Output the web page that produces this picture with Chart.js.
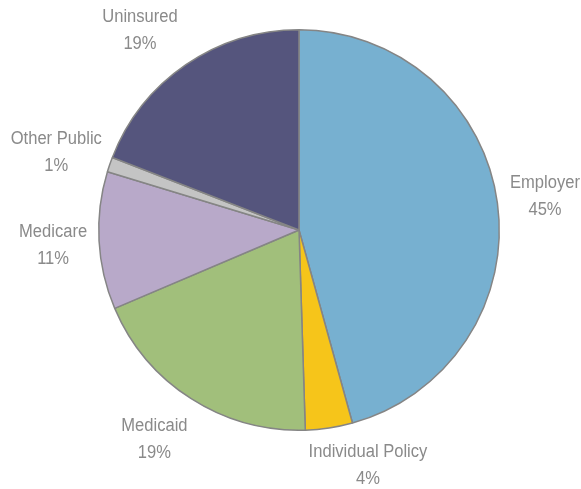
<!DOCTYPE html>
<html>
<head>
<meta charset="utf-8">
<script src="https://cdn.jsdelivr.net/npm/chart.js@4"></script>
<style>
  html, body { margin: 0; padding: 0; background: #fff; }
  canvas { display: block; }
</style>
</head>
<body>
<canvas id="coverageChart" width="581" height="489"></canvas>
<script>
const labels = ['Employer', 'Individual Policy', 'Medicaid', 'Medicare', 'Other Public', 'Uninsured'];
const values = [45.7, 3.8, 19.1, 11.1, 1.2, 19.1];  // slice sizes
const shown = ['45%', '4%', '19%', '11%', '1%', '19%'];  // printed percentages
const colors = ['#77B0D0', '#F6C51A', '#A1BF7B', '#B8A9C9', '#C4C4C4', '#55557D'];

// draws "Label / NN%" outside each slice
const outsideLabels = {
    id: 'outsideLabels',
    afterDraw(chart) {
        const c = chart.ctx;
        const arcs = chart.getDatasetMeta(0).data;
        const squeeze = 0.92;  // no narrow font installed, so squeeze the text a bit
        c.save();
        c.font = '18px "Liberation Sans", Arial, sans-serif';
        c.fillStyle = '#8A8A8A';
        c.textAlign = 'center';
        c.textBaseline = 'middle';
        arcs.forEach((arc, i) => {
            const p = arc.getProps(['x', 'y', 'startAngle', 'endAngle', 'outerRadius'], true);
            const mid = (p.startAngle + p.endAngle) / 2;
            const r = p.outerRadius + 46;
            let x = p.x + Math.cos(mid) * r;
            let y = p.y + Math.sin(mid) * r;
            if (i === 1) { x += 32; y -= 8; }   // Individual Policy sits a bit right
            if (i === 0) { x += 2; }
            if (i === 2) { x -= 12; y += 2; }
            if (i === 3) { y += 2; }
            if (i === 4) { x -= 10; y += 3; }
            if (i === 5) { x -= 20; y += 4; }
            c.save();
            c.translate(x, y);
            c.scale(squeeze, 1);
            c.fillText(labels[i], 0, -13.5);
            c.fillText(shown[i], 0, 13.5);
            c.restore();
        });
        c.restore();
    }
};

new Chart(document.getElementById('coverageChart'), {
    type: 'pie',
    data: {
        labels: labels,
        datasets: [{
            data: values,
            backgroundColor: colors,
            borderColor: '#858585',
            borderWidth: 1.5
        }]
    },
    options: {
        responsive: false,
        animation: false,
        layout: { padding: { top: 29, bottom: 58, left: 98, right: 81 } },
        plugins: {
            legend: { display: false },
            tooltip: { enabled: false }
        }
    },
    plugins: [outsideLabels]
});
</script>
</body>
</html>
